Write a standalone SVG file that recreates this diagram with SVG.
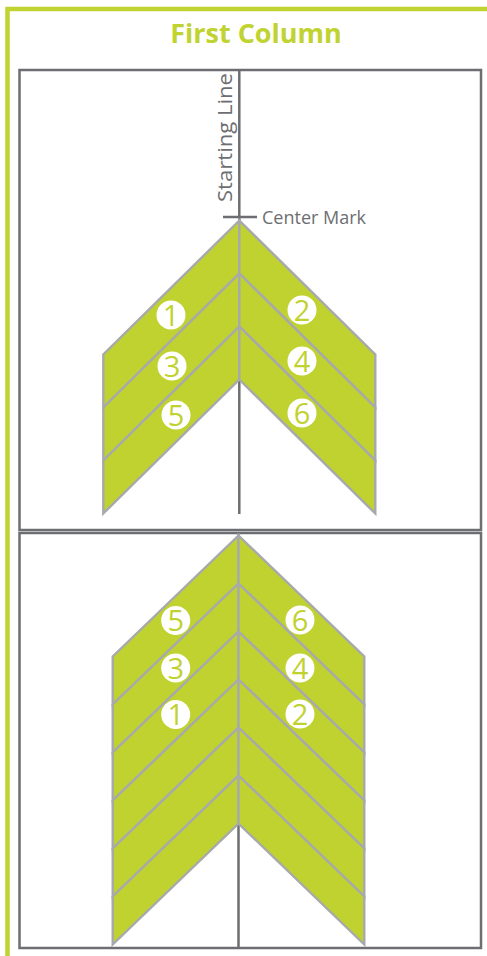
<svg xmlns="http://www.w3.org/2000/svg" width="487" height="956" viewBox="0 0 487 956">
<style>
.frame{fill:none;stroke:#c0d330;stroke-width:4.5}
.box{fill:#fff;stroke:#6d6e71;stroke-width:2.5}
.axis{stroke:#6d6e71;stroke-width:2.5;fill:none}
.strip{fill:#bfd22f;stroke:#a7a9ac;stroke-width:2.4;stroke-linejoin:miter}
.badge circle{fill:#fff}
.badge text{fill:#bfd22f;font-family:"Open Sans","Liberation Sans",sans-serif;font-size:29px;text-anchor:middle}
.lbl{fill:#6d6e71;font-family:"Open Sans","Liberation Sans",sans-serif;font-size:18px}
.title{fill:#c0d330;font-family:"Open Sans","Liberation Sans",sans-serif;font-size:27px;font-weight:bold;text-anchor:middle}
</style>
<rect width="487" height="956" fill="#fff"/>
<path class="frame" d="M7.5,956 V9 H487"/>
<text class="title" x="256" y="43">First Column</text>

<g id="panel-top">
<rect class="box" x="19.5" y="70" width="461.5" height="460"/>
</g>
<g id="panel-bottom">
<rect class="box" x="19.5" y="533" width="461.5" height="415"/>
</g>

<g id="connectors">
<line class="axis" x1="239.3" y1="70" x2="239.3" y2="514"/>
<line class="axis" x1="223" y1="217" x2="257" y2="217"/>
<line class="axis" x1="238.5" y1="533" x2="238.5" y2="948"/>
</g>

<g id="labels">
<text class="lbl" x="262" y="224">Center Mark</text>
<text class="lbl" style="font-size:19.5px" transform="translate(232,202) rotate(-90)" textLength="129" lengthAdjust="spacingAndGlyphs">Starting Line</text>
</g>

<g id="chevron-top">
<polygon class="strip" points="239.3,220.5 103.3,354.5 103.3,407.5 239.3,273.5"/>
<polygon class="strip" points="239.3,273.5 103.3,407.5 103.3,460.5 239.3,326.5"/>
<polygon class="strip" points="239.3,326.5 103.3,460.5 103.3,513.5 239.3,379.5"/>
<polygon class="strip" points="239.3,220.5 375.3,354.5 375.3,407.5 239.3,273.5"/>
<polygon class="strip" points="239.3,273.5 375.3,407.5 375.3,460.5 239.3,326.5"/>
<polygon class="strip" points="239.3,326.5 375.3,460.5 375.3,513.5 239.3,379.5"/>
</g>

<g id="chevron-bottom">
<polygon class="strip" points="238.5,535.5 112.7,656.5 112.7,704.5 238.5,583.5"/>
<polygon class="strip" points="238.5,583.5 112.7,704.5 112.7,752.5 238.5,631.5"/>
<polygon class="strip" points="238.5,631.5 112.7,752.5 112.7,800.5 238.5,679.5"/>
<polygon class="strip" points="238.5,679.5 112.7,800.5 112.7,848.5 238.5,727.5"/>
<polygon class="strip" points="238.5,727.5 112.7,848.5 112.7,896.5 238.5,775.5"/>
<polygon class="strip" points="238.5,775.5 112.7,896.5 112.7,944.5 238.5,823.5"/>
<polygon class="strip" points="238.5,535.5 364.3,656.5 364.3,704.5 238.5,583.5"/>
<polygon class="strip" points="238.5,583.5 364.3,704.5 364.3,752.5 238.5,631.5"/>
<polygon class="strip" points="238.5,631.5 364.3,752.5 364.3,800.5 238.5,679.5"/>
<polygon class="strip" points="238.5,679.5 364.3,800.5 364.3,848.5 238.5,727.5"/>
<polygon class="strip" points="238.5,727.5 364.3,848.5 364.3,896.5 238.5,775.5"/>
<polygon class="strip" points="238.5,775.5 364.3,896.5 364.3,944.5 238.5,823.5"/>
</g>

<g id="badge-top-1" class="badge"><circle cx="171" cy="315" r="14.5"/><text x="171" y="325.5">1</text></g>
<g id="badge-top-2" class="badge"><circle cx="302" cy="310" r="14.5"/><text x="302" y="320.5">2</text></g>
<g id="badge-top-3" class="badge"><circle cx="172" cy="366" r="14.5"/><text x="172" y="376.5">3</text></g>
<g id="badge-top-4" class="badge"><circle cx="302" cy="361" r="14.5"/><text x="302" y="371.5">4</text></g>
<g id="badge-top-5" class="badge"><circle cx="176" cy="415" r="14.5"/><text x="176" y="425.5">5</text></g>
<g id="badge-top-6" class="badge"><circle cx="302" cy="413" r="14.5"/><text x="302" y="423.5">6</text></g>

<g id="badge-bottom-5" class="badge"><circle cx="175.7" cy="620.5" r="14.5"/><text x="175.7" y="631">5</text></g>
<g id="badge-bottom-6" class="badge"><circle cx="300" cy="620" r="14.5"/><text x="300" y="630.5">6</text></g>
<g id="badge-bottom-3" class="badge"><circle cx="175.7" cy="668" r="14.5"/><text x="175.7" y="678.5">3</text></g>
<g id="badge-bottom-4" class="badge"><circle cx="300" cy="668" r="14.5"/><text x="300" y="678.5">4</text></g>
<g id="badge-bottom-1" class="badge"><circle cx="175.7" cy="714.5" r="14.5"/><text x="175.7" y="725">1</text></g>
<g id="badge-bottom-2" class="badge"><circle cx="300" cy="714" r="14.5"/><text x="300" y="724.5">2</text></g>
</svg>
